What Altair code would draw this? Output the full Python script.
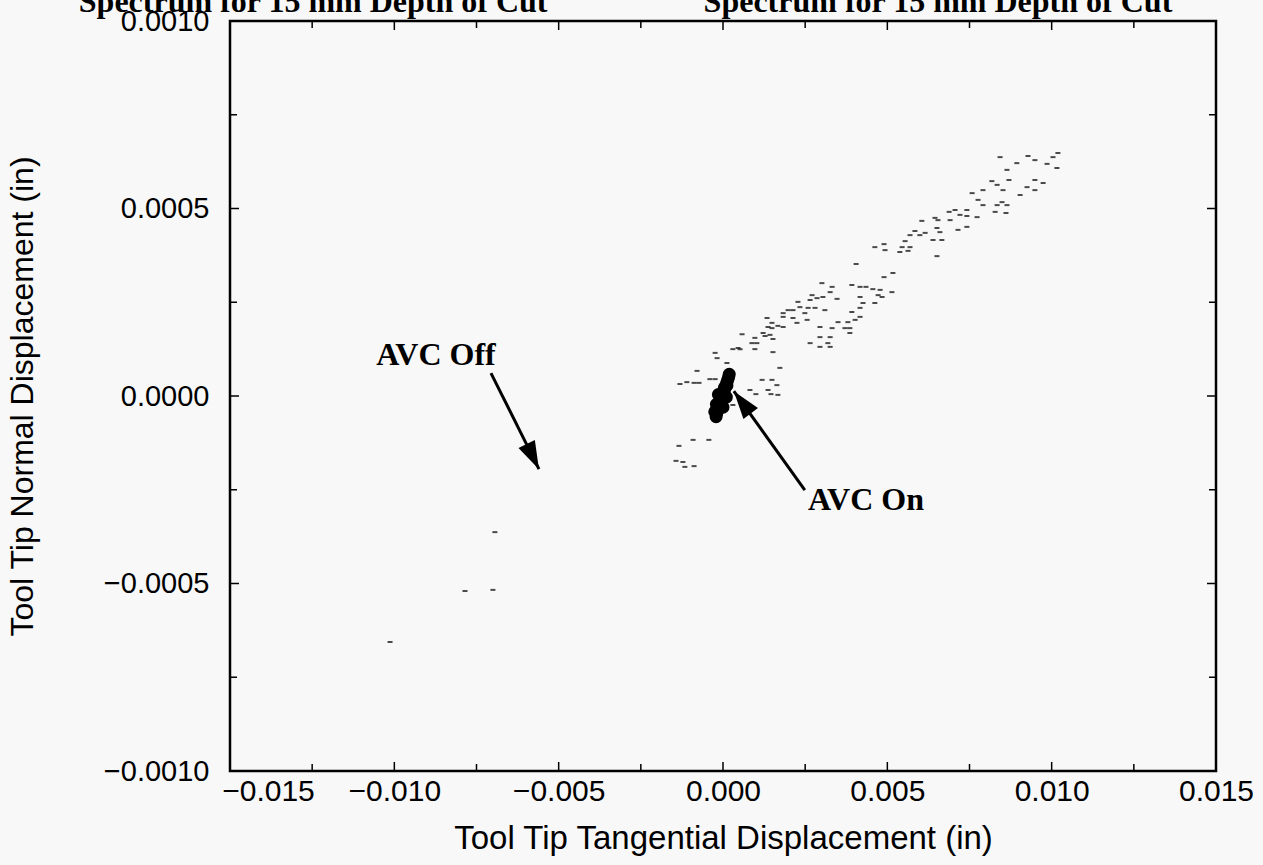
import altair as alt
import pandas as pd

# scattered trace points (x in 1e-3 in, y in 1e-4 in)
trace_x = [8.43, 9.28, 9.49, 9.86, 8.94, 8.64, 10.16, 10.04, 10.19, 8.18, 8.34, 8.70, 8.52, 9.49, 9.74, 9.25, 9.49, 9.04,
           7.91, 7.58, 7.76, 8.34, 8.49, 8.64, 8.28, 8.61, 7.91, 7.06, 7.42, 7.21, 7.42, 6.88, 7.73, 6.45,
           7.42, 7.15, 6.54, 6.05, 6.91, 6.51, 6.60, 5.84, 5.69, 5.99, 6.15, 5.54, 5.69, 5.45, 6.39, 6.66, 6.51,
           4.90, 4.93, 4.62, 5.38, 5.63, 4.05, 4.90, 5.17,
           3.01, 3.32, 3.26, 3.92, 4.17, 4.35, 4.56, 4.78, 4.72, 5.14, 4.17, 4.84, 4.62, 4.26, 3.47, 3.04, 2.71, 2.86,
           2.65, 2.28, 2.34, 2.59, 2.80, 3.10, 2.13, 1.98, 1.83, 2.13, 2.49, 2.56, 1.83, 2.25, 1.83, 2.95, 3.32,
           4.17, 4.17, 3.92, 4.02, 3.80, 3.50, 3.71, 3.86, 3.86, 2.95, 3.26, 2.65, 2.95, 3.26, 3.19,
           1.34, 1.49, 1.37, 1.67, 1.49, 1.43, 1.22, 0.97, 0.88, 1.03, 1.52, 0.58, 1.28, 0.46, 0.30, 0.52, 0.97, 1.52,
           -0.24, -0.18, 0.12, -0.79, -0.40, -0.24, -1.31, -1.10, -0.88, -0.73, 1.19, 1.49, 1.64, 0.82, 1.00, 1.37,
           1.67, 1.46, 1.73, 0.30,
           -1.34, -0.91, -0.43, -1.43, -1.22, -1.16, -0.88,
           -6.94, -7.85, -7.00, -10.13]
trace_y = [6.37, 6.40, 6.29, 6.19, 6.21, 6.03, 6.08, 6.37, 6.48, 5.73, 5.63, 5.76, 5.49, 5.76, 5.68, 5.57, 5.49, 5.36,
           5.49, 5.41, 5.23, 5.09, 5.17, 5.09, 4.91, 4.88, 5.09, 4.96, 4.96, 4.83, 4.80, 4.91, 4.77, 4.75,
           4.51, 4.43, 4.69, 4.67, 4.69, 4.48, 4.37, 4.40, 4.29, 4.29, 4.35, 4.13, 3.97, 3.97, 4.16, 4.16, 3.73,
           4.05, 3.89, 3.97, 3.84, 3.87, 3.52, 3.17, 3.28,
           3.01, 2.91, 2.77, 2.96, 2.91, 2.91, 2.85, 2.83, 2.69, 2.77, 2.64, 2.64, 2.48, 2.48, 2.59, 2.64, 2.69, 2.61,
           2.56, 2.51, 2.37, 2.35, 2.35, 2.29, 2.29, 2.29, 2.21, 2.08, 2.21, 2.03, 2.11, 1.95, 1.84, 1.84, 1.81,
           2.35, 2.11, 2.24, 2.03, 1.97, 1.97, 1.81, 1.81, 1.68, 1.57, 1.57, 1.41, 1.31, 1.31, 1.41,
           2.08, 1.95, 1.84, 1.87, 1.81, 1.63, 1.68, 1.55, 1.41, 1.41, 1.52, 1.65, 1.60, 1.28, 1.25, 1.25, 1.25, 1.17,
           1.15, 1.01, 0.88, 0.67, 0.45, 0.45, 0.32, 0.37, 0.35, 0.35, 0.43, 0.43, 0.29, 0.16, 0.05, 0.16,
           0.03, 0.05, 0.75, -0.24,
           -1.33, -1.17, -1.17, -1.73, -1.76, -1.89, -1.87,
           -3.63, -5.20, -5.17, -6.56]

# dense "AVC On" cluster (x in 1e-3 in, y in 1e-4 in)
blob_x = [0.19, 0.17, 0.14, 0.11, 0.08, 0.05, 0.02, -0.01, -0.04, -0.07, -0.10, -0.13, -0.16, -0.19, -0.21,
          -0.14, 0.10, -0.20, 0.04, -0.25, 0.12, -0.08, 0.00]
blob_y = [0.58, 0.50, 0.42, 0.34, 0.26, 0.18, 0.10, 0.02, -0.06, -0.14, -0.22, -0.30, -0.38, -0.46, -0.55,
          0.04, -0.03, -0.22, 0.22, -0.42, 0.28, -0.12, -0.30]

x_major = [-0.015, -0.010, -0.005, 0.0, 0.005, 0.010, 0.015]
x_minor = [-0.0125, -0.0075, -0.0025, 0.0025, 0.0075, 0.0125]
y_major = [-0.0010, -0.0005, 0.0, 0.0005, 0.0010]
y_minor = [-0.00075, -0.00025, 0.00025, 0.00075]

ann_text = ["AVC Off", "AVC On"]
ann_x = [-8.73, 4.35]
ann_y = [1.09, -2.77]

arrow_id = ["off", "off", "on", "on"]
arrow_x = [-7.06, -5.60, 2.49, 0.33]
arrow_y = [0.61, -1.95, -2.51, 0.13]
head_x = [-5.60, 0.33]
head_y = [-1.95, 0.13]
head_angle = [154, 323]

top_titles = ["Spectrum for 15 mm Depth of Cut", "Spectrum for 15 mm Depth of Cut"]
top_title_x = [-12.47, 6.54]

W, H = 986, 750
xs = alt.Scale(domain=[-0.015, 0.015], nice=False, zero=False)
ys = alt.Scale(domain=[-0.001, 0.001], nice=False, zero=False)

trace = pd.DataFrame({"x": [v * 1e-3 for v in trace_x], "y": [v * 1e-4 for v in trace_y]})
blob = pd.DataFrame({"x": [v * 1e-3 for v in blob_x], "y": [v * 1e-4 for v in blob_y]})
ann = pd.DataFrame({"t": ann_text, "x": [v * 1e-3 for v in ann_x], "y": [v * 1e-4 for v in ann_y]})
arr = pd.DataFrame({"id": arrow_id, "x": [v * 1e-3 for v in arrow_x], "y": [v * 1e-4 for v in arrow_y]})
heads = pd.DataFrame({"x": [v * 1e-3 for v in head_x], "y": [v * 1e-4 for v in head_y], "a": head_angle})
tops = pd.DataFrame({"t": top_titles, "x": [v * 1e-3 for v in top_title_x]})

xaxis = alt.Axis(values=x_major, format=".3f", ticks=False, domain=False, grid=False,
                 labelFont="Liberation Sans", labelFontSize=30, labelColor="black", labelPadding=5,
                 labelFlush=False,
                 labelOffset=alt.condition("datum.value < -0.014", alt.value(38), alt.value(0)),
                 title="Tool Tip Tangential Displacement (in)", titleFont="Liberation Sans",
                 titleFontSize=33, titleFontWeight="normal", titleColor="black",
                 titleX=W / 2, titleY=67, titleAlign="center", titleBaseline="middle")
yaxis = alt.Axis(values=y_major, format=".4f", ticks=False, domain=False, grid=False,
                 labelFont="Liberation Sans", labelFontSize=29, labelColor="black", labelPadding=21,
                 labelFlush=False,
                 title="Tool Tip Normal Displacement (in)", titleFont="Liberation Sans",
                 titleFontSize=32, titleFontWeight="normal", titleColor="black",
                 titleX=-208, titleY=H / 2, titleAngle=270, titleAlign="center", titleBaseline="middle")

base_pts = alt.Chart(trace).mark_tick(orient="horizontal", size=5, thickness=2, color="black").encode(
    x=alt.X("x:Q", scale=xs, axis=xaxis), y=alt.Y("y:Q", scale=ys, axis=yaxis))

blob_ch = alt.Chart(blob).mark_circle(size=170, color="black", opacity=1).encode(
    x=alt.X("x:Q", scale=xs), y=alt.Y("y:Q", scale=ys))

shaft = alt.Chart(arr).mark_line(color="black", strokeWidth=3).encode(
    x=alt.X("x:Q", scale=xs), y=alt.Y("y:Q", scale=ys), detail="id:N")

head = alt.Chart(heads).mark_point(shape="M0,0L0.65,2L-0.65,2Z", size=784, filled=True,
                                    color="black", opacity=1).encode(
    x=alt.X("x:Q", scale=xs), y=alt.Y("y:Q", scale=ys), angle=alt.Angle("a:Q", scale=None))

labels = alt.Chart(ann).mark_text(font="Liberation Serif", fontWeight="bold", fontSize=32,
                                  color="black", align="center", baseline="middle").encode(
    x=alt.X("x:Q", scale=xs), y=alt.Y("y:Q", scale=ys), text="t:N")

top_txt = alt.Chart(tops).mark_text(font="Liberation Serif", fontWeight="bold", fontSize=32,
                                    color="black", align="center", baseline="alphabetic").encode(
    x=alt.X("x:Q", scale=xs), y=alt.value(-9), text="t:N")

def ticks_x(vals, length, top):
    d = pd.DataFrame({"v": vals})
    if top:
        return alt.Chart(d).mark_rule(color="black", strokeWidth=1.5).encode(
            x=alt.X("v:Q", scale=xs), y=alt.value(0), y2=alt.value(length))
    return alt.Chart(d).mark_rule(color="black", strokeWidth=1.5).encode(
        x=alt.X("v:Q", scale=xs), y=alt.value(H), y2=alt.value(H - length))

def ticks_y(vals, length, left):
    d = pd.DataFrame({"v": vals})
    if left:
        return alt.Chart(d).mark_rule(color="black", strokeWidth=1.5).encode(
            y=alt.Y("v:Q", scale=ys), x=alt.value(0), x2=alt.value(length))
    return alt.Chart(d).mark_rule(color="black", strokeWidth=1.5).encode(
        y=alt.Y("v:Q", scale=ys), x=alt.value(W), x2=alt.value(W - length))

tick_layers = [ticks_x(x_major, 9, False), ticks_x(x_major, 9, True),
               ticks_x(x_minor, 7, False), ticks_x(x_minor, 7, True),
               ticks_y(y_major, 9, True), ticks_y(y_major, 9, False),
               ticks_y(y_minor, 7, True), ticks_y(y_minor, 7, False)]

chart = alt.layer(base_pts, blob_ch, shaft, head, labels, top_txt, *tick_layers).properties(
    width=W, height=H,
    autosize=alt.AutoSizeParams(type="none"),
    padding={"left": 230, "top": 21, "right": 47, "bottom": 94},
    background="#f8f8f8",
).configure_view(stroke="black", strokeWidth=2.5, fill="#f8f8f8")

chart.save("out.html", embed_options={"renderer": "svg", "actions": False})
